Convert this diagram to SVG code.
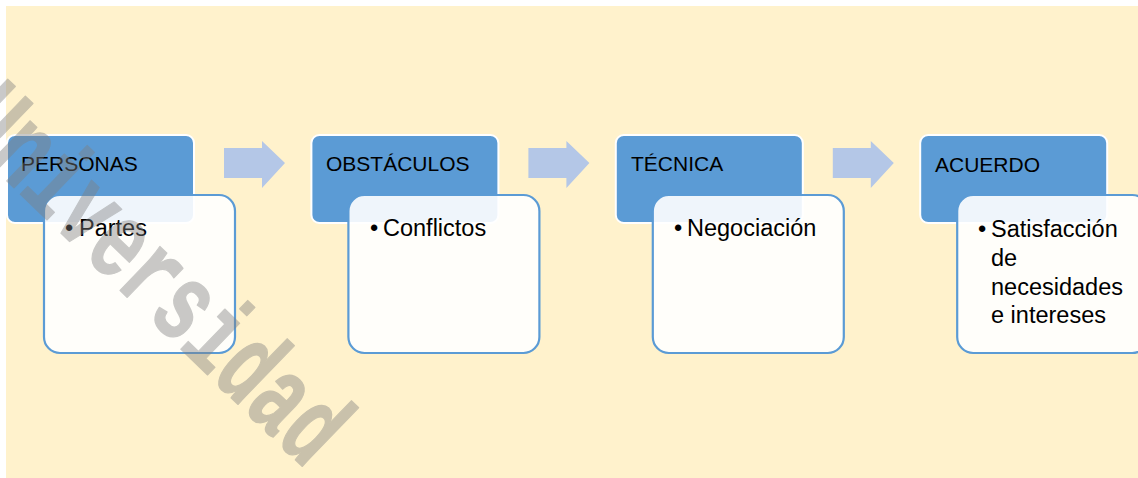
<svg xmlns="http://www.w3.org/2000/svg" width="1138" height="478" viewBox="0 0 1138 478">
<style>
.hdr{fill:#5B9BD5;stroke:#FFFFFF;stroke-width:2}
.body{fill:#FFFFFF;fill-opacity:0.9;stroke:#5B9BD5;stroke-width:2.2}
.ht{font-family:"Liberation Sans",Arial,sans-serif;font-size:21px;fill:#000000}
.bt{font-family:"Liberation Sans",Arial,sans-serif;font-size:23.5px;fill:#000000}
.arrow{fill:#B4C7E7}
.wm{font-family:"Liberation Mono","Courier New",monospace;font-weight:bold;font-size:112px;fill:#808080;stroke:#808080;stroke-width:1.5;stroke-linejoin:round}
</style>
<rect x="0" y="0" width="1138" height="478" fill="#FFFFFF"/>
<rect x="6" y="6" width="1132" height="472" fill="#FFF2CC"/>
<g id="connectors">
<polygon class="arrow" points="224,148 262,148 262,141 285,163 262,188 262,178 224,178"/>
<polygon class="arrow" points="528.4,148 566.4,148 566.4,141 589.4,163 566.4,188 566.4,178 528.4,178"/>
<polygon class="arrow" points="832.8,148 870.8,148 870.8,141 893.8,163 870.8,188 870.8,178 832.8,178"/>
</g>
<g id="node-personas">
<rect class="hdr" x="7" y="135" width="187" height="88" rx="8"/>
<text class="ht" x="21" y="171">PERSONAS</text>
<rect class="body" x="44" y="195" width="191" height="158" rx="16"/>
<text class="bt" y="236"><tspan x="65">•</tspan><tspan x="79">Partes</tspan></text>
</g>
<g id="node-obstaculos">
<rect class="hdr" x="311.4" y="135" width="187" height="88" rx="8"/>
<text class="ht" x="326" y="171">OBSTÁCULOS</text>
<rect class="body" x="348.4" y="195" width="191" height="158" rx="16"/>
<text class="bt" y="236"><tspan x="370">•</tspan><tspan x="383">Conflictos</tspan></text>
</g>
<g id="node-tecnica">
<rect class="hdr" x="615.8" y="135" width="187" height="88" rx="8"/>
<text class="ht" x="631" y="171">TÉCNICA</text>
<rect class="body" x="652.8" y="195" width="191" height="158" rx="16"/>
<text class="bt" y="236"><tspan x="674">•</tspan><tspan x="687">Negociación</tspan></text>
</g>
<g id="node-acuerdo">
<rect class="hdr" x="920.2" y="135" width="187" height="88" rx="8"/>
<text class="ht" x="935" y="172">ACUERDO</text>
<rect class="body" x="957.2" y="195" width="191" height="158" rx="16"/>
<text class="bt" y="237"><tspan x="978">•</tspan><tspan x="991">Satisfacción</tspan></text>
<text class="bt" x="991" y="266">de</text>
<text class="bt" x="991" y="295">necesidades</text>
<text class="bt" x="991" y="323">e intereses</text>
</g>
<g id="watermark" opacity="0.42">
<text class="wm" transform="translate(-46.9,129.1) rotate(44) scale(0.664,1)" x="0" y="0">Universidad</text>
</g>
</svg>
